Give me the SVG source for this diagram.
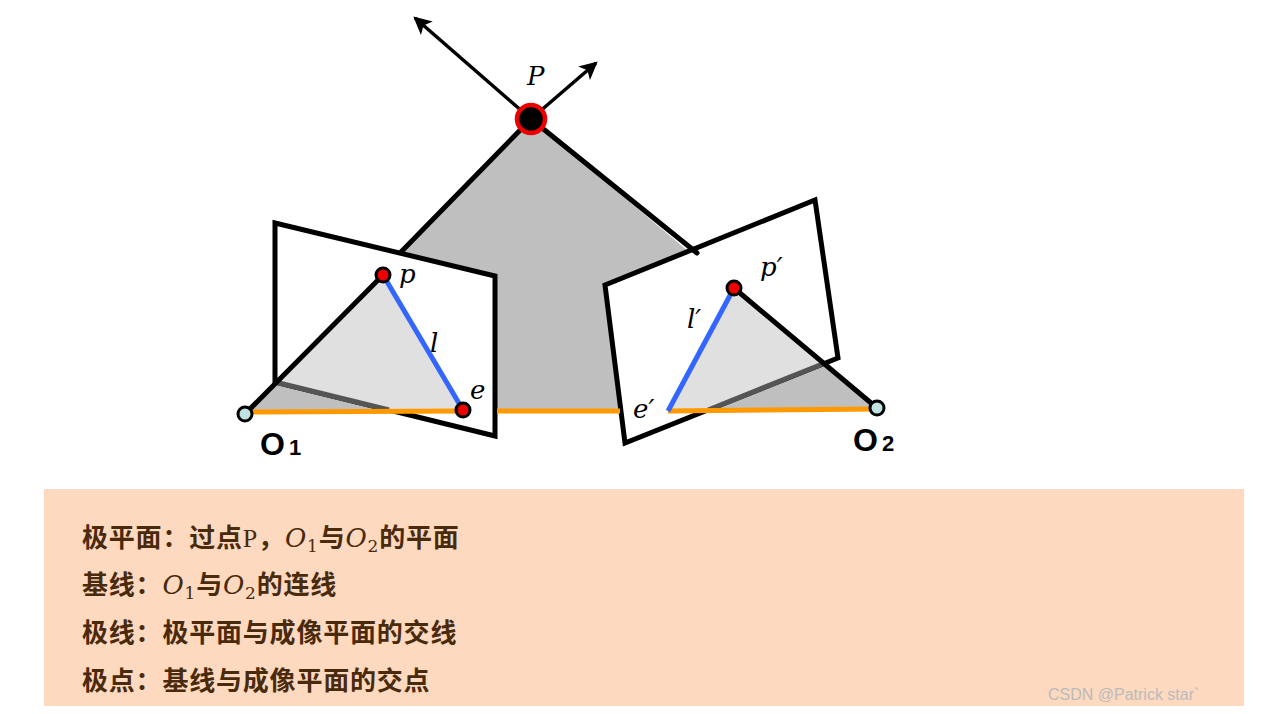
<svg xmlns="http://www.w3.org/2000/svg" width="1264" height="714" viewBox="0 0 1264 714">
<defs>
<marker id="ah" markerWidth="18" markerHeight="18" refX="14" refY="8" orient="auto" markerUnits="userSpaceOnUse" viewBox="0 0 16 16"><path d="M0,0 L16,8 L0,16 L4,8 z" fill="#000"/></marker>
<style>
.ln{stroke:#000;stroke-width:5;fill:none;stroke-linecap:round}
.pl{fill:#fff;stroke:#000;stroke-width:5;stroke-linejoin:miter}
.bl{stroke:#3366ff;stroke-width:5}
.or{stroke:#ff9900;stroke-width:5}
.lab{font-family:"DejaVu Serif","Liberation Serif",serif;font-style:italic;font-size:26px;fill:#000}
.O{font-family:"Liberation Sans",Arial,sans-serif;font-weight:bold;font-size:32px;fill:#000}
.tx{font-family:"Noto Sans CJK SC","Liberation Sans",sans-serif;font-weight:bold;font-size:26px;letter-spacing:0.8px;fill:#4a2a0c}
.mi{font-family:"DejaVu Serif","Liberation Serif",serif;font-style:italic;font-weight:normal}
.sb{font-family:"DejaVu Serif","Liberation Serif",serif;font-weight:normal;font-size:17px}
</style>
</defs>
<rect width="1264" height="714" fill="#fff"/>
<g id="epipolar-plane"><polygon points="531,119 245,414 877,410" fill="#bfbfbf"/></g>
<g id="left-plane">
<polygon class="pl" points="275,223 495,276 495,436 275,382"/>
<polygon points="383,275 275,383 389,411 463,411" fill="#e0e0e0"/>
<line x1="275" y1="382" x2="389" y2="410" stroke="#555" stroke-width="5"/>
</g>
<g id="right-plane">
<polygon class="pl" points="605,285 815,200 838,358 625,443"/>
<polygon points="734,288 668,411 708,411 824,363" fill="#e0e0e0"/>
<line x1="708" y1="410" x2="825" y2="363" stroke="#555" stroke-width="5"/>
</g>
<g id="connectors">
<line class="or" x1="245" y1="412" x2="463" y2="411"/>
<line class="or" x1="497" y1="411" x2="620" y2="411"/>
<line class="or" x1="668" y1="411" x2="877" y2="409"/>
<line class="ln" x1="531" y1="119" x2="401" y2="252"/>
<line class="ln" x1="383" y1="275" x2="245" y2="414"/>
<line class="ln" x1="531" y1="119" x2="697" y2="253"/>
<line class="ln" x1="734" y1="288" x2="877" y2="408"/>
<line class="bl" x1="383" y1="275" x2="463" y2="410"/>
<line class="bl" x1="734" y1="288" x2="668" y2="411"/>
<line x1="531" y1="119" x2="415" y2="18" stroke="#000" stroke-width="3.5" marker-end="url(#ah)"/>
<line x1="531" y1="119" x2="596" y2="63" stroke="#000" stroke-width="3.5" marker-end="url(#ah)"/>
</g>
<g id="P"><circle cx="531" cy="119" r="14" fill="#000" stroke="#e00" stroke-width="4.5"/><text class="lab" x="527" y="85">P</text></g>
<g id="p"><circle cx="383" cy="275" r="7" fill="#e00" stroke="#000" stroke-width="3"/><text class="lab" x="399" y="283">p</text></g>
<g id="e"><circle cx="463" cy="410" r="7" fill="#e00" stroke="#000" stroke-width="3"/><text class="lab" x="470" y="399">e</text></g>
<g id="p2"><circle cx="734" cy="288" r="7" fill="#e00" stroke="#000" stroke-width="3"/><text class="lab" x="760" y="276">p′</text></g>
<g id="O1"><circle cx="245" cy="414" r="7" fill="#bfe3e3" stroke="#000" stroke-width="3"/><text class="O" x="260" y="455">O<tspan font-size="22" dx="4">1</tspan></text></g>
<g id="O2"><circle cx="877" cy="408" r="7" fill="#bfe3e3" stroke="#000" stroke-width="3"/><text class="O" x="853" y="451">O<tspan font-size="22" dx="4">2</tspan></text></g>
<text class="lab" x="430" y="352">l</text>
<text class="lab" x="687" y="328">l′</text>
<text class="lab" x="633" y="418">e′</text>
<g id="legend">
<rect x="44" y="489" width="1200" height="217" fill="#fcd9bf"/>
<text class="tx" x="82" y="547">极平面：过点<tspan font-family="Liberation Serif" font-weight="normal">P</tspan>，<tspan class="mi">O</tspan><tspan class="sb" dy="5">1</tspan><tspan dy="-5">与</tspan><tspan class="mi">O</tspan><tspan class="sb" dy="5">2</tspan><tspan dy="-5">的平面</tspan></text>
<text class="tx" x="82" y="594">基线：<tspan class="mi">O</tspan><tspan class="sb" dy="5">1</tspan><tspan dy="-5">与</tspan><tspan class="mi">O</tspan><tspan class="sb" dy="5">2</tspan><tspan dy="-5">的连线</tspan></text>
<text class="tx" x="82" y="642">极线：极平面与成像平面的交线</text>
<text class="tx" x="82" y="690">极点：基线与成像平面的交点</text>
</g>
<text x="1048" y="700" font-family="Liberation Sans,sans-serif" font-size="16" fill="#bbb">CSDN @Patrick star`</text>
</svg>
